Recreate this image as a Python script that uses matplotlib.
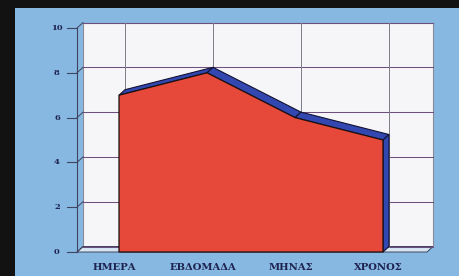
import matplotlib
matplotlib.use("Agg")
import matplotlib.pyplot as plt
from matplotlib.patches import Polygon, Rectangle

categories = ["ΗΜΕΡΑ", "ΕΒΔΟΜΑΔΑ", "ΜΗΝΑΣ", "ΧΡΟΝΟΣ"]
values = [7, 8, 6, 5]
yticks = [0, 2, 4, 6, 8, 10]

# styling
RED = "#E6483A"
BAND = "#3347B0"
BG = "#86B8E2"
WALL = "#F6F6F9"
TXT = "#1f2350"
DX, DY = 0.068, 0.245          # 3D depth offset (data units)
XL, XR = -0.477, 3.5           # wall extent (front coords)

fig = plt.figure(figsize=(4.6, 2.76), dpi=100, facecolor="#121212")
ax = fig.add_axes([0, 0, 1, 1])
ax.set_facecolor("none")
ax.set_xlim((0-119)/88, (460-119)/88)
ax.set_ylim((252-276)/22.4, 252/22.4)
ax.axis("off")
ax.add_patch(Rectangle((15/460, 0), 1, (276-8)/276, transform=fig.transFigure,
                       facecolor=BG, edgecolor="none", zorder=0))

ymax = yticks[-1]
# back wall
ax.add_patch(Rectangle((XL+DX, DY), XR-XL, ymax, facecolor=WALL, edgecolor="#8a8a98",
                       lw=0.8, zorder=1))
# floor
ax.add_patch(Polygon([(XL, 0), (XR, 0), (XR+DX, DY), (XL+DX, DY)], closed=True,
                     facecolor="#d8e6f3", edgecolor="#3e4460", lw=0.7, zorder=2))
# horizontal gridlines + side connectors + ticks
for v in yticks:
    ax.plot([XL+DX, XR+DX], [v+DY, v+DY], color="#6e4f7e", lw=0.75, zorder=2)
    ax.plot([XL, XL+DX], [v, v+DY], color="#3e4460", lw=0.7, zorder=2)
    ax.plot([XL-0.11, XL], [v, v], color="#3e4460", lw=0.8, zorder=2)
    ax.text(-0.705, v, str(v), ha="center", va="center", fontsize=6,
            family="DejaVu Serif", fontweight="bold", color=TXT, zorder=5)
# vertical gridlines
for i in range(len(categories)):
    ax.plot([i+DX, i+DX], [DY, ymax+DY], color="#7c7c86", lw=0.7, zorder=2)
# axis line
ax.plot([XL, XL], [0, ymax], color="#3e4460", lw=0.8, zorder=2)

# area: top band and right side
n = len(values)
for i in range(n-1):
    ax.add_patch(Polygon([(i, values[i]), (i+1, values[i+1]),
                          (i+1+DX, values[i+1]+DY), (i+DX, values[i]+DY)],
                         closed=True, facecolor=BAND, edgecolor="#111133", lw=0.8, zorder=3))
ax.add_patch(Polygon([(n-1, 0), (n-1, values[-1]), (n-1+DX, values[-1]+DY), (n-1+DX, DY)],
                     closed=True, facecolor=BAND, edgecolor="#111133", lw=0.8, zorder=3))
# area front
pts = [(0, 0)] + [(i, v) for i, v in enumerate(values)] + [(n-1, 0)]
ax.add_patch(Polygon(pts, closed=True, facecolor=RED, edgecolor="#1a1010", lw=0.9, zorder=4))

# category labels
for i, c in enumerate(categories):
    ax.text(i-0.05, -0.67, c, ha="center", va="center", fontsize=7.2,
            family="DejaVu Serif", fontweight="bold", color=TXT, zorder=5)

fig.savefig("out.png", dpi=100, facecolor=fig.get_facecolor())
